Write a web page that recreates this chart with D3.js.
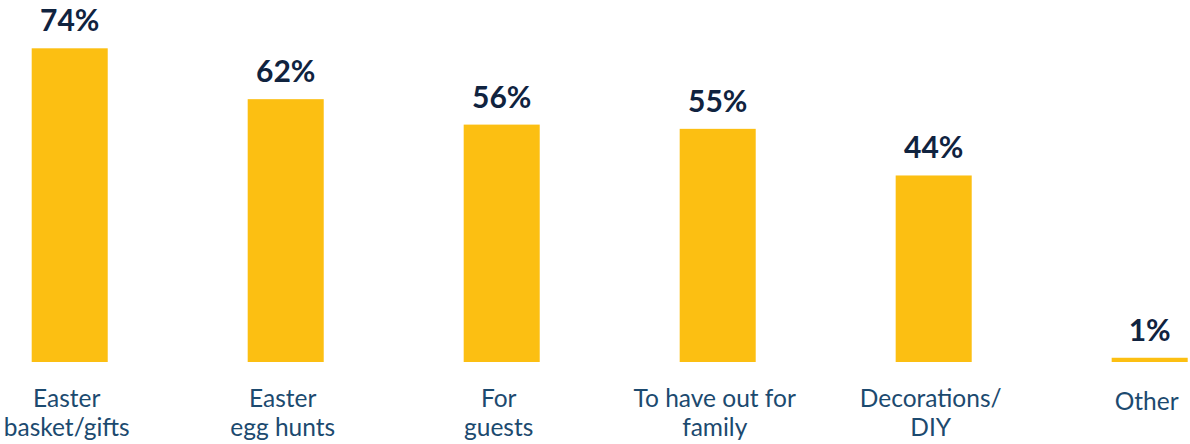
<!DOCTYPE html>
<head>
<meta charset="utf-8">
<style>
body { margin: 0; background: #fff; }
svg { display: block; }
</style>
<script src="https://d3js.org/d3.v7.min.js"></script>
</head>
<body>
<script>
  const width = 1190;
  const height = 444;

  // data
  const categories = [
    ["Easter", "basket/gifts"],
    ["Easter", "egg hunts"],
    ["For", "guests"],
    ["To have out for", "family"],
    ["Decorations/", "DIY"],
    ["Other"]
  ];
  const values = [74, 62, 56, 55, 44, 1];

  const barColor = "#fcbf12";
  const valueColor = "#10233f";
  const catColor = "#1c4a6f";

  const baseY = 362;

  var x = d3.scaleBand()
    .domain(d3.range(values.length))
    .range([31.7, 1187.7])
    .paddingInner(0.648)
    .paddingOuter(0);

  var y = d3.scaleLinear()
    .domain([0, 74])
    .range([baseY, 48.3]);

  var svg = d3.select("body")
    .append("svg")
    .attr("width", width)
    .attr("height", height);

  svg.append("g")
    .selectAll("rect")
    .data(values)
    .enter()
    .append("rect")
      .attr("x", function(d, i) { return x(i); })
      .attr("y", function(d) { return y(d); })
      .attr("width", x.bandwidth())
      .attr("height", function(d) { return baseY - y(d); })
      .attr("fill", barColor);

  svg.append("g")
    .selectAll("text")
    .data(values)
    .enter()
    .append("text")
      .attr("x", function(d, i) { return x(i) + x.bandwidth() / 2; })
      .attr("y", function(d) { return y(d) - 17; })
      .attr("text-anchor", "middle")
      .attr("fill", valueColor)
      .style("font", "bold 30px Lato, sans-serif")
      .text(function(d) { return d + "%"; });

  var cat = svg.append("g")
    .selectAll("text")
    .data(categories)
    .enter()
    .append("text")
      .attr("text-anchor", "middle")
      .attr("fill", catColor)
      .style("font", "24.5px Lato, sans-serif")
      .attr("transform", function(d, i) {
        var cy = d.length > 1 ? 407 : 410;
        return "translate(" + (x(i) + x.bandwidth() / 2 - 3) + "," + cy + ")";
      });

  cat.selectAll("tspan")
    .data(function(d) { return d; })
    .enter()
    .append("tspan")
      .attr("x", 0)
      .attr("y", function(d, j) { return j * 29; })
      .text(function(d) { return d; });
</script>
</body>
</html>
